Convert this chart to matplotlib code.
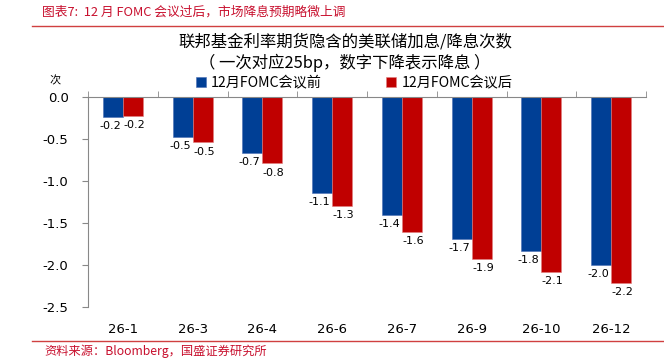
import matplotlib.pyplot as plt
import numpy as np

plt.rcParams['font.family'] = ['DejaVu Sans', 'Noto Sans CJK SC']

# 数据
categories = ['26-1', '26-3', '26-4', '26-6', '26-7', '26-9', '26-10', '26-12']
before = [-0.24, -0.48, -0.67, -1.14, -1.40, -1.69, -1.83, -2.00]
after = [-0.23, -0.54, -0.79, -1.30, -1.61, -1.93, -2.08, -2.21]
yticks = [0.0, -0.5, -1.0, -1.5, -2.0, -2.5]

blue = '#003F95'
red = '#C00000'
cjk = ['Noto Sans CJK SC', 'DejaVu Sans']

fig = plt.figure(figsize=(6.64, 3.59), dpi=100)
ax = fig.add_axes([88 / 664, 1 - 307 / 359, (646 - 88) / 664, 210 / 359])

x = np.arange(len(categories))
w = 0.285
b1 = ax.bar(x - w / 2, before, w, color=blue, edgecolor='#4a6fb5', linewidth=0.4,
            label='12月FOMC会议前')
b2 = ax.bar(x + w / 2, after, w, color=red, edgecolor='#e08080', linewidth=0.4,
            label='12月FOMC会议后')

# 数据标签，放在柱子末端下方
for bars, dx in ((b1, -2), (b2, 1)):
    for r in bars:
        v = r.get_height()
        ax.annotate('%.1f' % v, (r.get_x() + r.get_width() / 2, v),
                    xytext=(dx, -3), textcoords='offset points',
                    ha='center', va='top', fontsize=8)

ax.set_xlim(-0.5, len(categories) - 0.5)
ax.set_ylim(-2.5, 0)
ax.set_yticks(yticks)
ax.set_yticklabels(['%.1f' % t for t in yticks], fontsize=9.5)
ax.tick_params(axis='y', direction='out', length=4, color='#888888', pad=10)

# 分类标签在底部，刻度线在零轴（顶部）
ax.set_xticks(x)
ax.set_xticklabels(categories, fontsize=9.5)
ax.tick_params(axis='x', which='major', bottom=False, top=False, pad=8)
ax.set_xticks(np.arange(len(categories) + 1) - 0.5, minor=True)
ax.tick_params(axis='x', which='minor', bottom=False, top=True, direction='out',
               length=4, color='#888888')

for s in ('bottom', 'right'):
    ax.spines[s].set_visible(False)
for s in ('left', 'top'):
    ax.spines[s].set_color('#888888')
    ax.spines[s].set_linewidth(0.8)

fig.text(55 / 664, 1 - 81 / 359, '次', fontsize=8, family=cjk, ha='center', va='center')

fig.text(345 / 664, 1 - 42 / 359, '联邦基金利率期货隐含的美联储加息/降息次数',
         fontsize=11.8, family=cjk, ha='center', va='center')
fig.text(345 / 664, 1 - 63 / 359, '（ 一次对应25bp，数字下降表示降息 ）',
         fontsize=11.8, family=cjk, ha='center', va='center')

fig.legend(handles=[b1, b2], loc='center', bbox_to_anchor=(354 / 664, 1 - 83 / 359),
           ncol=2, frameon=False, prop={'family': cjk, 'size': 10.2},
           handlelength=0.7, handleheight=0.7, handletextpad=0.4, columnspacing=4.5)

# 页眉页脚
fig.text(42 / 664, 1 - 12 / 359, '图表7:  12 月 FOMC 会议过后，市场降息预期略微上调',
         fontsize=9.2, family=cjk, style='italic', color='#C8102E', ha='left', va='center')
fig.add_artist(plt.Line2D([32 / 664, 1], [1 - 26 / 359] * 2, color='#D04040', linewidth=1))
fig.add_artist(plt.Line2D([32 / 664, 1], [1 - 341 / 359] * 2, color='#D04040', linewidth=1))
fig.text(44 / 664, 1 - 351 / 359, '资料来源：Bloomberg，国盛证券研究所',
         fontsize=8.8, family=cjk, style='italic', color='#C8102E', ha='left', va='center')

fig.savefig('out.png', dpi=100)
